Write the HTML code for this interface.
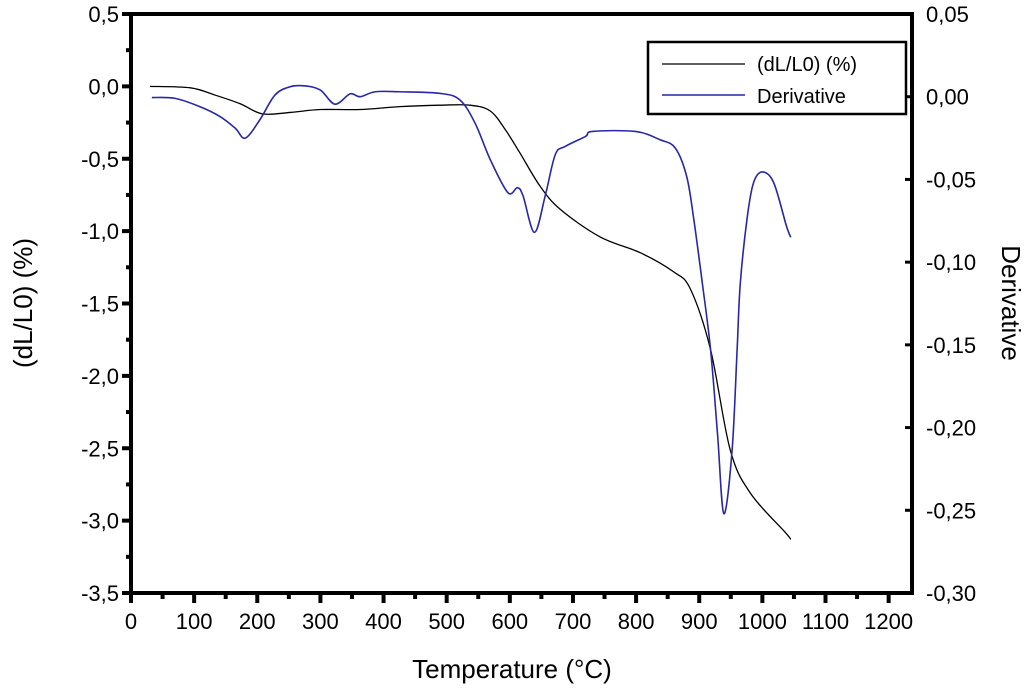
<!DOCTYPE html>
<html><head><meta charset="utf-8"><style>
body{margin:0;background:#fff;}
svg text{font-family:"Liberation Sans",Arial,sans-serif;fill:#000;}
</style></head><body>
<svg id="chart" width="1024" height="688" viewBox="0 0 1024 688" xmlns="http://www.w3.org/2000/svg">
<g id="axes"></g>
<g id="series"></g>
<g>
<rect x="648" y="42" width="258" height="72" fill="#fff" stroke="#000" stroke-width="2.5"/>
<line x1="662" y1="64" x2="745" y2="64" stroke="#000" stroke-width="1.3"/>
<text x="757" y="71" font-size="20">(dL/L0) (%)</text>
<line x1="662" y1="95" x2="745" y2="95" stroke="#2727a8" stroke-width="1.5"/>
<text x="757" y="103" font-size="20">Derivative</text>
</g>
<text x="512" y="678" font-size="26" text-anchor="middle">Temperature (°C)</text>
<text transform="translate(32,303) rotate(-90)" font-size="26" text-anchor="middle">(dL/L0) (%)</text>
<text transform="translate(1002,303) rotate(90)" font-size="26" text-anchor="middle">Derivative</text>
</svg>
<script>
const xTicks=[0,100,200,300,400,500,600,700,800,900,1000,1100,1200];
const leftTicks=[0.5,0,-0.5,-1,-1.5,-2,-2.5,-3,-3.5];
const leftTickLabels=["0,5","0,0","-0,5","-1,0","-1,5","-2,0","-2,5","-3,0","-3,5"];
const rightTicks=[0.05,0,-0.05,-0.1,-0.15,-0.2,-0.25,-0.3];
const rightTickLabels=["0,05","0,00","-0,05","-0,10","-0,15","-0,20","-0,25","-0,30"];
const dlTemp=[30,94,133,173,208,252,300,363,426,490,537,569,593,616,648,680,743,807,859,886,918,949,981,1036,1045];
const dlValue=[0,-0.01,-0.06,-0.12,-0.19,-0.18,-0.16,-0.16,-0.14,-0.13,-0.13,-0.17,-0.30,-0.46,-0.69,-0.85,-1.04,-1.15,-1.28,-1.40,-1.82,-2.51,-2.81,-3.08,-3.13];
const dvTemp=[33,70,109,141,165,181,204,228,252,276,300,323,347,363,387,426,490,521,545,569,597,612,621,639,656,672,688,720,731,799,838,862,880,891,905,918,929,939,952,960,965,976,986,1000,1018,1038,1045];
const dvValue=[-0.0005,-0.001,-0.006,-0.012,-0.019,-0.025,-0.014,0.001,0.006,0.0065,0.004,-0.0045,0.0017,0.0,0.003,0.003,0.002,-0.002,-0.016,-0.038,-0.058,-0.055,-0.06,-0.082,-0.06,-0.035,-0.030,-0.024,-0.021,-0.021,-0.026,-0.031,-0.048,-0.073,-0.113,-0.153,-0.204,-0.252,-0.214,-0.153,-0.113,-0.073,-0.052,-0.0455,-0.052,-0.078,-0.085];

const L=131,R=912,T=14,B=593;
const xS=t=>L+t*(R-L)/1237;
const yL=v=>T+(0.5-v)*(B-T)/4;
const yR=v=>T+(0.05-v)*(B-T)/0.35;
const NS='http://www.w3.org/2000/svg';
const axes=document.getElementById('axes'),series=document.getElementById('series');
function mk(tag,at,parent){const e=document.createElementNS(NS,tag);for(const k in at)e.setAttribute(k,at[k]);parent.appendChild(e);return e;}

const frame=mk('rect',{x:L,y:T,width:R-L,height:B-T,fill:'none',stroke:'#000','stroke-width':4},axes);



xTicks.forEach((t,i)=>{
  const x=xS(t);
  const tk=mk('line',{x1:x,y1:B,x2:x,y2:B+10,stroke:'#000','stroke-width':4},axes);
  
  
  if(i<xTicks.length-1){const xm=xS(t+50);
    const mt=mk('line',{x1:xm,y1:B,x2:xm,y2:B+6,stroke:'#000','stroke-width':4},axes);
    
    }
  const lb=mk('text',{x:x,y:B+36,'font-size':22,'text-anchor':'middle'},axes);
  lb.textContent=String(t);
  
  
});
leftTicks.forEach((v,i)=>{
  const y=yL(v);
  const tk=mk('line',{x1:L-9,y1:y,x2:L,y2:y,stroke:'#000','stroke-width':4},axes);
  
  
  if(i<leftTicks.length-1){const ym=yL(v-0.25);
    const mt=mk('line',{x1:L-5,y1:ym,x2:L,y2:ym,stroke:'#000','stroke-width':4},axes);
    
    }
  const lb=mk('text',{x:L-12,y:y+8,'font-size':22,'text-anchor':'end'},axes);
  lb.textContent=leftTickLabels[i];
  
  
});
rightTicks.forEach((v,i)=>{
  const y=yR(v);
  const tk=mk('line',{x1:R-7,y1:y,x2:R,y2:y,stroke:'#000','stroke-width':3},axes);
  
  
  const lb=mk('text',{x:R+14,y:y+8,'font-size':22,'text-anchor':'start'},axes);
  lb.textContent=rightTickLabels[i];
  
  
});
function pathOf(xs,ys,fy){
  const p=xs.map((t,i)=>[xS(t),fy(ys[i])]);
  let d='M'+p[0][0]+','+p[0][1];
  for(let i=0;i<p.length-1;i++){
    const p0=p[Math.max(0,i-1)],p1=p[i],p2=p[i+1],p3=p[Math.min(p.length-1,i+2)];
    const c1=[p1[0]+(p2[0]-p0[0])/6,p1[1]+(p2[1]-p0[1])/6];
    const c2=[p2[0]-(p3[0]-p1[0])/6,p2[1]-(p3[1]-p1[1])/6];
    d+=' C'+c1+' '+c2+' '+p2;
  }
  return d;
}
const dl=mk('path',{d:pathOf(dlTemp,dlValue,yL),fill:'none',stroke:'#000','stroke-width':1.3},series);


const dv=mk('path',{d:pathOf(dvTemp,dvValue,yR),fill:'none',stroke:'#2727a8','stroke-width':1.6},series);


</script>
</body></html>
